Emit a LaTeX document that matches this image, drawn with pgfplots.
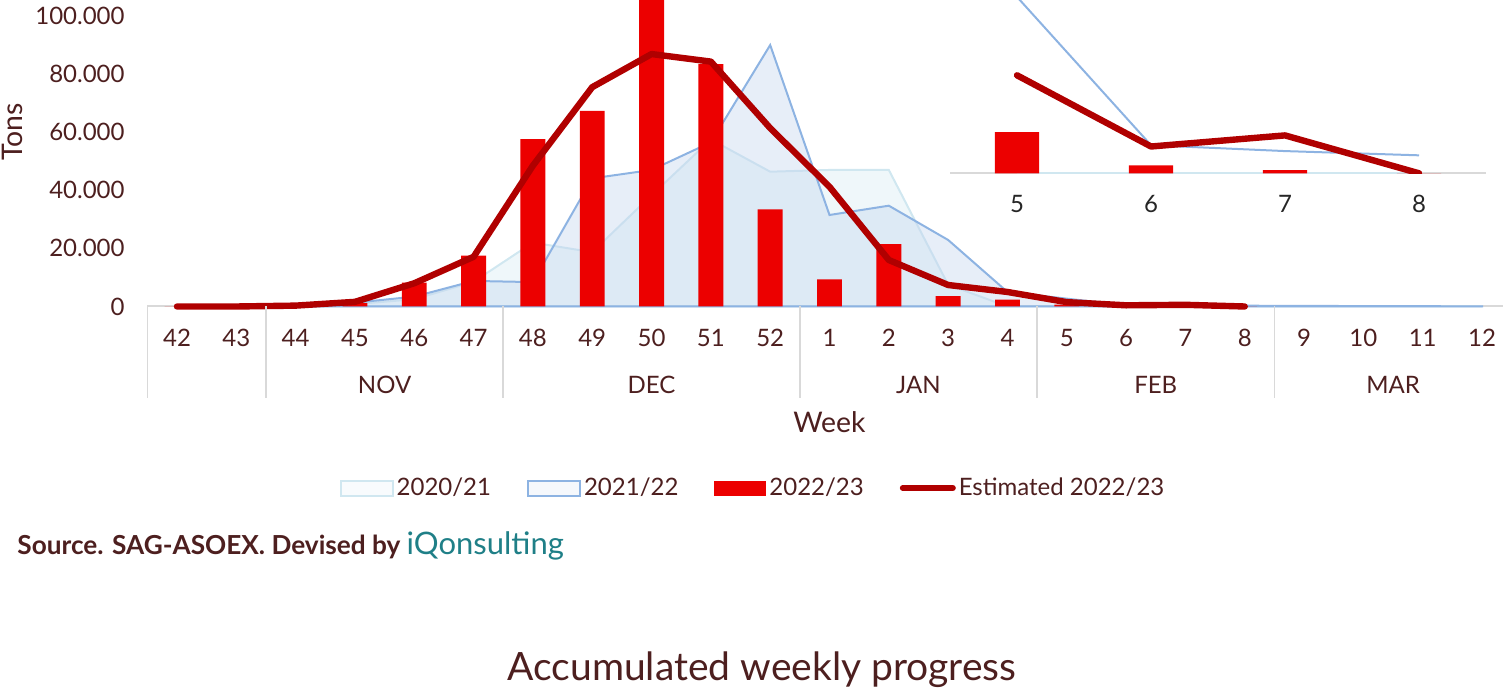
\documentclass[border=0pt]{standalone}
\usepackage{fontspec}
\setmainfont{Lato}
\usepackage{pgfplots}
\pgfplotsset{compat=1.18}
\usepackage{pgfplotstable}

\definecolor{txt}{HTML}{4D1F1F}
\definecolor{redbar}{HTML}{EC0000}
\definecolor{estline}{HTML}{B00000}
\definecolor{blueline}{HTML}{8DB3E2}
\definecolor{bluefill}{HTML}{C3D5EE}
\definecolor{cyanline}{HTML}{D0E7F0}
\definecolor{cyanfill}{HTML}{DCEEF4}
\definecolor{gridgrey}{HTML}{D9D9D9}
\definecolor{tealc}{HTML}{1F7F87}
\definecolor{insettxt}{HTML}{262626}

% idx: 0=wk42 ... 10=wk52, 11=wk1 ... 22=wk12
\pgfplotstableread{
idx s2021 s2122
0  0      0
1  0      0
2  200    100
3  800    1300
4  2500   3400
5  8500   8800
6  22000  8400
7  18700  44100
8  38300  47000
9  57500  56500
10 46400  90000
11 47000  31500
12 47000  34700
13 7500   22900
14 0      5000
15 0      2700
16 0      430
17 0      340
18 0      275
19 0      200
20 0      150
21 0      100
22 0      50
}\areadata

\pgfplotstableread{
idx bars   est
0  0      0
1  0      0
2  0      300
3  1200   1600
4  8200   8000
5  17500  17100
6  57600  48500
7  67300  75500
8  110000 86900
9  83400  84300
10 33400  61400
11 9300   41200
12 21500  16000
13 3600   7400
14 2400   5000
15 630    1500
16 120    410
17 50     580
18 0      0
}\curdata

% inset: weeks 5,6,7,8
\pgfplotstableread{
idx s2021 s2122 bars est
0  0  2700 630 1500
1  0  430  120 410
2  0  340  50  580
3  0  275  0   0
}\insetdata

\begin{document}
\begin{tikzpicture}
\begin{axis}[
  at={(73.675pt,191.75pt)}, anchor=south west,
  scale only axis, width=682.15pt, height=174.3pt,
  xmin=-0.5, xmax=22.5, ymin=0, ymax=120000,
  clip=false,
  axis x line*=bottom, axis y line*=left,
  x axis line style={gridgrey, line width=1pt},
  y axis line style={draw=none},
  major tick length=0pt,
  xtick={0,...,22},
  xticklabels={42,43,44,45,46,47,48,49,50,51,52,1,2,3,4,5,6,7,8,9,10,11,12},
  ytick={0,20000,40000,60000,80000,100000},
  scaled y ticks=false,
  /pgf/number format/.cd, fixed, 1000 sep={.}, assume math mode=true,
  /pgfplots/.cd,
  every tick label/.append style={font=\fontsize{12}{14}\selectfont, text=txt},
  xticklabel style={anchor=center, inner sep=0pt, yshift=-15.75pt},
  yticklabel style={anchor=east, inner sep=0pt, xshift=-11.2pt},
  xlabel={Week}, ylabel={Tons},
  label style={font=\fontsize{14.2}{16}\selectfont, text=txt},
  xlabel style={at={(axis description cs:0.5,-0.3305)}, anchor=center},
  ylabel style={at={(axis description cs:-0.0992,0.5)}, anchor=center},
  legend style={at={(0.4443,-0.5207)}, anchor=center, draw=none, fill=none,
    font=\fontsize{12}{14}\selectfont, text=txt, legend columns=4,
    /tikz/every even column/.append style={column sep=16.5pt},
    inner sep=0pt, nodes={inner sep=1.5pt}},
  legend cell align=left,
]
\addplot[draw=cyanline, line width=1pt, fill=cyanfill, fill opacity=0.45,
  legend image code/.code={\draw[fill=cyanfill!45, draw=cyanline, line width=1pt] (0pt,-3.75pt) rectangle (26pt,3.75pt);}]
  table[x=idx, y=s2021] {\areadata} \closedcycle;
\addlegendentry{2020/21}
\addplot[draw=blueline, line width=1pt, fill=bluefill, fill opacity=0.4,
  legend image code/.code={\draw[fill=bluefill!40, draw=blueline, line width=1pt] (0pt,-3.75pt) rectangle (26pt,3.75pt);}]
  table[x=idx, y=s2122] {\areadata} \closedcycle;
\addlegendentry{2021/22}
\addplot[ybar, bar width=0.42, fill=redbar, draw=none,
  legend image code/.code={\fill[redbar] (0pt,-3.75pt) rectangle (26pt,3.75pt);}]
  table[x=idx, y=bars] {\curdata};
\addlegendentry{2022/23}
\addplot[estline, line width=3.2pt, line join=round, line cap=round,
  legend image code/.code={\draw[estline, line width=3pt, line cap=round] (1pt,0pt) -- (26pt,0pt);}]
  table[x=idx, y=est] {\curdata};
\addlegendentry{Estimated 2022/23}

% month group separators and labels
\pgfplotsinvokeforeach{-0.5,1.5,5.5,10.5,14.5,18.5,22.5}{
  \draw[gridgrey, line width=0.8pt] (axis cs:#1,0) -- ++(0pt,-46pt);
}
\node[font=\fontsize{12}{14}\selectfont, text=txt, yshift=-39.25pt] at (axis cs:3.5,0) {NOV};
\node[font=\fontsize{12}{14}\selectfont, text=txt, yshift=-39.25pt] at (axis cs:8,0) {DEC};
\node[font=\fontsize{12}{14}\selectfont, text=txt, yshift=-39.25pt] at (axis cs:12.5,0) {JAN};
\node[font=\fontsize{12}{14}\selectfont, text=txt, yshift=-39.25pt] at (axis cs:16.5,0) {FEB};
\node[font=\fontsize{12}{14}\selectfont, text=txt, yshift=-39.25pt] at (axis cs:20.5,0) {MAR};
\end{axis}

% inset zoom on weeks 5-8
\begin{axis}[
  at={(475pt,258.35pt)}, anchor=south west,
  scale only axis, width=268pt, height=98pt,
  xmin=-0.5, xmax=3.5, ymin=0, ymax=3000,
  axis x line*=bottom, axis y line=none,
  x axis line style={gridgrey, line width=1pt},
  major tick length=0pt,
  xtick={0,1,2,3}, xticklabels={5,6,7,8},
  /pgf/number format/assume math mode=true,
  xticklabel style={font=\fontsize{12}{14}\selectfont, text=insettxt, anchor=center, inner sep=0pt, yshift=-15.35pt},
]
\addplot[cyanline, line width=1pt] table[x=idx, y=s2021] {\insetdata};
\addplot[blueline, line width=1pt] table[x=idx, y=s2122] {\insetdata};
\addplot[ybar, bar width=0.33, fill=redbar, draw=none] table[x=idx, y=bars] {\insetdata};
\addplot[estline, line width=3.2pt, line join=round, line cap=round] table[x=idx, y=est] {\insetdata};
\end{axis}

\node[anchor=west, text=txt, font=\bfseries\fontsize{13.1}{15}\selectfont, inner sep=0pt] at (8.5pt,72pt)
  {Source. SAG-ASOEX. Devised by \textcolor{tealc}{\mdseries\fontsize{15.5}{18}\selectfont iQonsulting}};
\node[anchor=base, text=txt, font=\fontsize{19.5}{22}\selectfont, inner sep=0pt] at (381pt,4.6pt)
  {Accumulated weekly progress};

\pgfresetboundingbox
\path[use as bounding box] (0pt,0pt) rectangle (751.5pt,345pt);
\end{tikzpicture}
\end{document}
